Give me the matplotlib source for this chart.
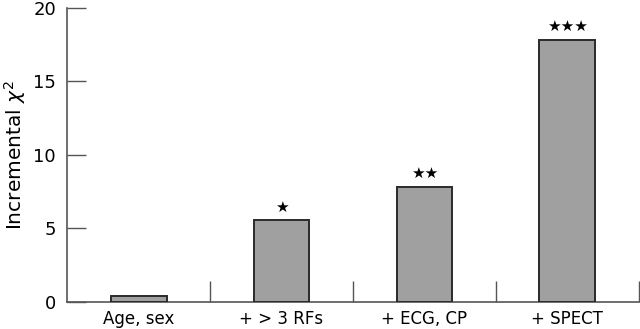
import matplotlib
matplotlib.use("Agg")
import matplotlib.pyplot as plt

# data
categories = ["Age, sex", "+ > 3 RFs", "+ ECG, CP", "+ SPECT"]
chi2 = [0.4, 5.6, 7.85, 17.85]
stars = ["", "\u2605", "\u2605\u2605", "\u2605\u2605\u2605"]
y_ticks = [0, 5, 10, 15, 20]

plt.rcParams['font.family'] = ['DejaVu Sans']

fig = plt.figure(figsize=(6.4, 3.29), dpi=100)
ax = fig.add_axes([0.105, 0.082, 0.893, 0.894])

x = list(range(len(categories)))
ax.bar(x, chi2, width=0.39, color="#a0a0a0", edgecolor="#2a2a2a", linewidth=1.4, zorder=3)

for xi, v, s in zip(x, chi2, stars):
    if s:
        ax.text(xi, v + 0.35, s, ha="center", va="bottom", fontsize=11, color="black")

ax.set_xlim(-0.5, 3.5)
ax.set_ylim(0, 20)

# separators between categories as major ticks, labels on minor ticks
ax.set_xticks([0.5, 1.5, 2.5, 3.5])
ax.set_xticklabels([])
ax.set_xticks(x, minor=True)
ax.set_xticklabels(categories, minor=True, fontsize=12)
ax.tick_params(axis="x", which="major", direction="in", length=15, width=1, color="#555555")
ax.tick_params(axis="x", which="minor", length=0, pad=6)

ax.set_yticks(y_ticks)
ax.set_yticklabels([str(t) for t in y_ticks], fontsize=13)
ax.tick_params(axis="y", direction="in", length=14, width=1, color="#555555", pad=8)

for side in ["top", "right"]:
    ax.spines[side].set_visible(False)
for side in ["left", "bottom"]:
    ax.spines[side].set_color("#555555")
    ax.spines[side].set_linewidth(1.2)

ax.set_ylabel(r"Incremental $\chi^2$", fontsize=14.5, labelpad=4)

fig.savefig("out.png", dpi=100)
